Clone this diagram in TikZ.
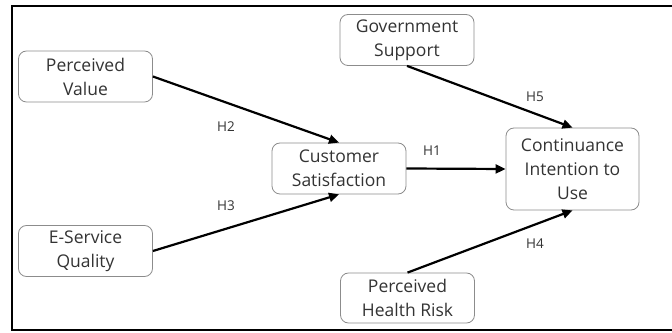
\documentclass[tikz,border=0pt]{standalone}
\usepackage{fontspec}
\setmainfont{Open Sans}
\usetikzlibrary{arrows.meta}
\definecolor{boxline}{gray}{0.55}
\definecolor{boxtext}{gray}{0.2}
\tikzset{
  construct/.style={draw=boxline, line width=0.8pt, rounded corners=8pt,
    minimum width=134pt, minimum height=51pt, align=center,
    text=boxtext, font=\fontsize{17.5}{24}\selectfont, inner sep=2pt},
  hypo/.style={->, >={Triangle[length=10pt,width=9pt]}, line width=2.2pt, black},
  hlabel/.style={text=boxtext, font=\fontsize{13.5}{15}\selectfont, inner sep=0pt}
}
\begin{document}
\begin{tikzpicture}[x=1pt, y=1pt]
% page and outer frame
\useasboundingbox (0,0) rectangle (672,332);
\draw[line width=2pt] (12,2) rectangle (690,326);
% constructs
\node[construct] (pv)  at (85.5,255.5) {Perceived\\Value};
\node[construct] (esq) at (85.5,81)    {E-Service\\Quality};
\node[construct] (cs)  at (339,163.5)  {Customer\\Satisfaction};
\node[construct] (gs)  at (407,292)    {Government\\Support};
\node[construct, minimum width=133pt, minimum height=82pt] (ci) at (572.5,163) {Continuance\\Intention to\\Use};
\node[construct, minimum height=50pt] (phr) at (407.5,34) {Perceived\\Health Risk};
% hypotheses
\draw[hypo] (pv.east)  -- (cs.north);
\draw[hypo] (esq.east) -- (cs.south);
\draw[hypo] (cs.east)  -- (ci.west);
\draw[hypo] (gs.south) -- (ci.north);
\draw[hypo] (phr.north) -- (ci.south);
% labels
\node[hlabel] (h1) at (432,181) {H1};
\node[hlabel] (h2) at (226,205) {H2};
\node[hlabel] (h3) at (226,126) {H3};
\node[hlabel] (h4) at (535,88)  {H4};
\node[hlabel] (h5) at (535,235) {H5};
\end{tikzpicture}
\end{document}
